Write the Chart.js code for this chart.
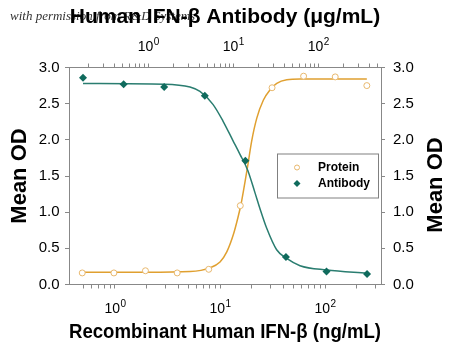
<!DOCTYPE html>
<html>
<head>
<meta charset="utf-8">
<script src="https://cdn.jsdelivr.net/npm/chart.js@4.4.1/dist/chart.umd.min.js"></script>
<style>
    body { margin: 0; background: #fff; }
    canvas { display: block; }
</style>
</head>
<body>
<canvas id="chart" width="450" height="352"></canvas>
<script>
// measured points (protein on the bottom axis, antibody on the top axis)
const proteinConc = [0.488, 0.977, 1.95, 3.91, 7.81, 15.6, 31.3, 62.5, 125, 250];
const proteinOD = [0.16, 0.16, 0.19, 0.16, 0.21, 1.09, 2.72, 2.88, 2.87, 2.75];
const antibodyConc = [0.171, 0.514, 1.54, 4.63, 13.9, 41.7, 125, 375];
const antibodyOD = [2.86, 2.77, 2.73, 2.61, 1.71, 0.38, 0.18, 0.145];

// fitted curves
const proteinFitConc = [0.488, 2, 5.2, 8, 10, 11.6, 13.4, 14.9, 15.9, 17.3, 18.4, 20, 22.4, 25.9, 29.9, 34.7, 43.2, 58, 250];
const proteinFitOD = [0.17, 0.17, 0.18, 0.23, 0.31, 0.45, 0.69, 0.94, 1.12, 1.42, 1.65, 1.98, 2.30, 2.55, 2.69, 2.78, 2.83, 2.84, 2.84];
const antibodyFitConc = [0.171, 1.54, 3.1, 4.06, 5.77, 7.57, 9.92, 12, 14.8, 18, 20.6, 24.7, 32.4, 42.5, 61, 126, 375];
const antibodyFitOD = [2.78, 2.77, 2.73, 2.67, 2.49, 2.26, 1.99, 1.80, 1.58, 1.27, 1.05, 0.78, 0.48, 0.36, 0.26, 0.20, 0.155];

const yTicks = [0, 0.5, 1, 1.5, 2, 2.5, 3];

const FONT = 'Arial, "Liberation Sans", sans-serif';
const orangeLine = '#e0a030';
const orangePoint = '#e8b86e';
const tealLine = '#2a7d70';
const tealPoint = '#0f6b5d';
const axisGrey = '#888888';

const pairs = (xs, ys) => xs.map((x, i) => ({ x: x, y: ys[i] }));

function logTicks(scale) {
    scale.ticks = scale.ticks.filter(t => {
        const m = t.value / Math.pow(10, Math.floor(Math.log10(t.value) + 1e-9));
        return Math.abs(m - Math.round(m)) < 1e-6 &&
            t.value > scale.options.min && t.value < scale.options.max;
    });
}

function powerOf(v) {
    const e = Math.log10(v);
    const r = Math.round(e);
    return Math.abs(e - r) < 1e-9 ? r : null;
}

const logAxis = (position, min, max, titleText) => ({
    type: 'logarithmic',
    position: position,
    min: min,
    max: max,
    afterBuildTicks: logTicks,
    afterFit: (s) => { s.height = 67.5; },
    border: { display: true, color: axisGrey, width: 1 },
    grid: { drawOnChartArea: false, tickLength: 4, color: axisGrey },
    ticks: {
        autoSkip: false,
        maxRotation: 0,
        // labels with raised exponents are drawn by the powerLabels plugin
        callback: () => ''
    },
    title: titleText
});

const linAxis = (position, pad, titleText) => ({
    type: 'linear',
    position: position,
    min: 0,
    max: 3,
    afterBuildTicks: (s) => { s.ticks = yTicks.map(v => ({ value: v })); },
    afterFit: (s) => { s.width = 69; },
    border: { display: true, color: axisGrey, width: 1 },
    grid: { drawOnChartArea: false, tickLength: 4, color: axisGrey },
    ticks: {
        padding: pad,
        color: '#000',
        font: { size: 15, family: FONT },
        callback: (v) => v.toFixed(1)
    },
    title: titleText
});

// "10" with a small raised exponent at each decade tick
const powerLabels = {
    id: 'powerLabels',
    afterDraw(chart) {
        const ctx = chart.ctx;
        ctx.save();
        ctx.fillStyle = '#000';
        ctx.textBaseline = 'alphabetic';
        ctx.textAlign = 'left';
        [['x', 'bottom'], ['x2', 'top']].forEach(([id, pos]) => {
            const s = chart.scales[id];
            const base = pos === 'bottom' ? s.top + 28.5 : s.bottom - 16.5;
            s.ticks.forEach(t => {
                const e = powerOf(t.value);
                if (e === null) return;
                const px = s.getPixelForValue(t.value);
                ctx.font = '14px ' + FONT;
                const w1 = ctx.measureText('10').width;
                ctx.font = '10px ' + FONT;
                const w2 = ctx.measureText(String(e)).width;
                const x0 = px - (w1 + w2) / 2;
                ctx.font = '14px ' + FONT;
                ctx.fillText('10', x0, base);
                ctx.font = '10px ' + FONT;
                ctx.fillText(String(e), x0 + w1 + 0.5, base - 6);
            });
        });
        ctx.restore();
    }
};

// legend box inside the plot
const insideLegend = {
    id: 'insideLegend',
    afterDraw(chart) {
        const { ctx, chartArea } = chart;
        const bx = chartArea.left + 208;
        const by = chartArea.top + 86;
        ctx.save();
        ctx.fillStyle = '#fff';
        ctx.fillRect(bx, by, 101, 44);
        ctx.strokeStyle = '#808080';
        ctx.lineWidth = 1;
        ctx.strokeRect(bx + 0.5, by + 0.5, 101, 44);
        const items = chart.data.datasets.filter(d => d.inLegend);
        items.forEach((d, i) => {
            const cy = by + 14 + i * 16;
            ctx.fillStyle = d.backgroundColor;
            ctx.strokeStyle = d.borderColor;
            ctx.lineWidth = d.pointBorderWidth;
            Chart.helpers.drawPoint(ctx, {
                pointStyle: d.pointStyle,
                radius: d.legendRadius,
                borderWidth: d.pointBorderWidth,
                rotation: 0
            }, bx + 20, cy);
            ctx.fillStyle = '#000';
            ctx.font = 'bold 12px ' + FONT;
            ctx.textAlign = 'left';
            ctx.textBaseline = 'middle';
            ctx.fillText(d.label, bx + 41, cy);
        });
        ctx.restore();
    }
};

// right title reads bottom-to-top like the left one
const rightTitle = {
    id: 'rightTitle',
    afterDraw(chart) {
        const s = chart.scales.y2;
        const ctx = chart.ctx;
        ctx.save();
        ctx.font = 'bold 22px ' + FONT;
        ctx.fillStyle = '#000';
        ctx.textAlign = 'center';
        ctx.textBaseline = 'middle';
        ctx.translate(s.right - 14, (s.top + s.bottom) / 2 + 9);
        ctx.rotate(-Math.PI / 2);
        ctx.fillText('Mean OD', 0, 0);
        ctx.restore();
    }
};

const watermark = {
    id: 'watermark',
    beforeDraw(chart) {
        const ctx = chart.ctx;
        ctx.save();
        ctx.font = 'italic 13px "Liberation Serif", "Times New Roman", serif';
        ctx.fillStyle = '#333';
        ctx.textBaseline = 'alphabetic';
        ctx.fillText('with permission from R&D Systems', 10, 20);
        ctx.restore();
    }
};

new Chart(document.getElementById('chart').getContext('2d'), {
    type: 'scatter',
    data: {
        datasets: [
            {
                label: 'Protein',
                inLegend: true,
                data: pairs(proteinConc, proteinOD),
                xAxisID: 'x',
                yAxisID: 'y',
                pointStyle: 'circle',
                pointRadius: 3,
                legendRadius: 2.5,
                pointBorderWidth: 1,
                borderColor: orangePoint,
                backgroundColor: '#fff',
                order: 1
            },
            {
                label: 'Antibody',
                inLegend: true,
                data: pairs(antibodyConc, antibodyOD),
                xAxisID: 'x2',
                yAxisID: 'y',
                pointStyle: 'rectRot',
                pointRadius: 4,
                legendRadius: 3.5,
                pointBorderWidth: 0,
                borderColor: tealPoint,
                backgroundColor: tealPoint,
                order: 0
            },
            {
                label: 'Protein fit',
                type: 'line',
                data: pairs(proteinFitConc, proteinFitOD),
                xAxisID: 'x',
                yAxisID: 'y',
                borderColor: orangeLine,
                borderWidth: 1.5,
                pointRadius: 0,
                cubicInterpolationMode: 'monotone',
                order: 3
            },
            {
                label: 'Antibody fit',
                type: 'line',
                data: pairs(antibodyFitConc, antibodyFitOD),
                xAxisID: 'x2',
                yAxisID: 'y',
                borderColor: tealLine,
                borderWidth: 1.5,
                pointRadius: 0,
                cubicInterpolationMode: 'monotone',
                order: 2
            }
        ]
    },
    options: {
        responsive: false,
        animation: false,
        layout: { padding: 0 },
        scales: {
            x: logAxis('bottom', 0.365, 341, {
                display: true,
                text: 'Recombinant Human IFN-\u03B2 (ng/mL)',
                color: '#000',
                font: { size: 21, weight: 'bold', family: FONT },
                padding: { top: 0, bottom: 7 }
            }),
            x2: logAxis('top', 0.117, 547, {
                display: true,
                text: 'Human IFN-\u03B2 Antibody (\u03BCg/mL)',
                color: '#000',
                font: { size: 21, weight: 'bold', family: FONT },
                padding: { top: 5, bottom: 0 }
            }),
            y: linAxis('left', 5.5, {
                display: true,
                text: 'Mean OD',
                color: '#000',
                font: { size: 22, weight: 'bold', family: FONT },
                padding: { top: 7, bottom: 0 }
            }),
            y2: linAxis('right', 8, { display: false })
        },
        plugins: {
            legend: { display: false },
            tooltip: { enabled: false }
        }
    },
    plugins: [watermark, insideLegend, rightTitle, powerLabels]
});
</script>
</body>
</html>
